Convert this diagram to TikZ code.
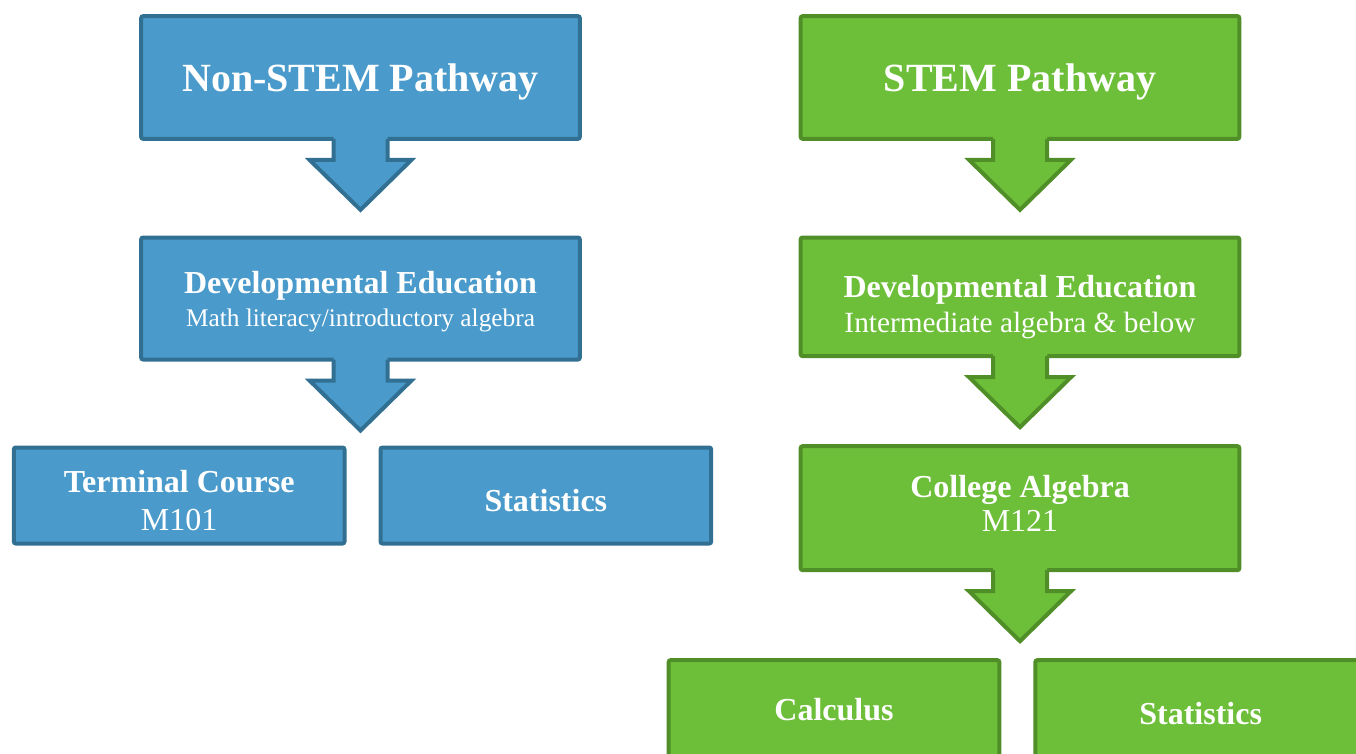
\documentclass[tikz,border=0pt]{standalone}
\usepackage{fontspec}
\setmainfont{Liberation Serif}
\usetikzlibrary{positioning,calc}

\definecolor{nsfill}{RGB}{74,155,203}
\definecolor{nsline}{RGB}{49,112,146}
\definecolor{stfill}{RGB}{109,191,57}
\definecolor{stline}{RGB}{80,143,40}

% block arrow hanging below a box: #1 box, #2 fill, #3 outline
\newcommand{\flowarrow}[3]{%
  \path[fill=#2] (#1.south) ++(-27,-5) -- ++(0,24) -- ++(-24,0) -- ++(51,50)
    -- ++(51,-50) -- ++(-24,0) -- ++(0,-24) -- cycle;
  \draw[#3, line width=3pt] (#1.south) ++(-27,-2) -- ++(0,21) -- ++(-24,0)
    -- ++(51,50) -- ++(51,-50) -- ++(-24,0) -- ++(0,-21);
}

\begin{document}
\begin{tikzpicture}[
    x=0.75pt, y=-0.75pt,
    ns/.style={rectangle, rounded corners=1.5pt, draw=nsline, fill=nsfill,
               line width=3pt, text=white, align=center},
    st/.style={rectangle, rounded corners=1.5pt, draw=stline, fill=stfill,
               line width=3pt, text=white, align=center},
    wide/.style={minimum width=329pt, minimum height=92pt},
    narrow/.style={minimum width=248pt, minimum height=72pt},
    headfont/.style={font=\fontsize{30}{36}\selectfont\bfseries},
    boxfont/.style={font=\fontsize{24}{28}\selectfont\bfseries},
    drop/.style={execute at begin node={\rule{0pt}{#1}}},
  ]
  \useasboundingbox (0,0) rectangle (1356,753);
  \clip (0,0) rectangle (1356,753);

  % non-STEM side
  \node[ns, wide, headfont, drop=28pt] (nonstem) at (360.5,77.5) {Non-STEM Pathway};
  \node[ns, wide, minimum height=91.5pt, below=71pt of nonstem,
        font=\fontsize{24}{25}\selectfont] (devns)
    {\rule{0pt}{21pt}\bfseries Developmental Education\\
     \fontsize{19}{25}\selectfont Math literacy/introductory algebra};
  \node[ns, narrow, below=63pt of devns, xshift=-136pt,
        font=\fontsize{24}{28}\selectfont] (terminal)
    {\rule{0pt}{24pt}\bfseries Terminal Course\\ M101};
  \node[ns, narrow, boxfont, drop=24pt, right=24pt of terminal] (statsns) {Statistics};

  % STEM side
  \node[st, wide, headfont, drop=28pt] (stem) at (1020,77.5) {STEM Pathway};
  \node[st, wide, minimum height=89pt, below=71pt of stem,
        font=\fontsize{24}{26}\selectfont] (devst)
    {\rule{0pt}{31.5pt}\bfseries Developmental Education\\
     \fontsize{22}{26}\selectfont Intermediate algebra \& below};
  \node[st, wide, minimum height=93pt, below=64.5pt of devst,
        font=\fontsize{24}{25.5}\selectfont] (collalg)
    {\bfseries College Algebra\\ M121\rule[-7.5pt]{0pt}{1pt}};
  \node[st, narrow, boxfont, drop=19.5pt, below=64.5pt of collalg, xshift=-139.5pt] (calc)
    {Calculus};
  \node[st, narrow, boxfont, drop=24pt, right=24pt of calc] (statsst) {Statistics};

  \flowarrow{nonstem}{nsfill}{nsline}
  \flowarrow{devns}{nsfill}{nsline}
  \flowarrow{stem}{stfill}{stline}
  \flowarrow{devst}{stfill}{stline}
  \flowarrow{collalg}{stfill}{stline}
\end{tikzpicture}
\end{document}
